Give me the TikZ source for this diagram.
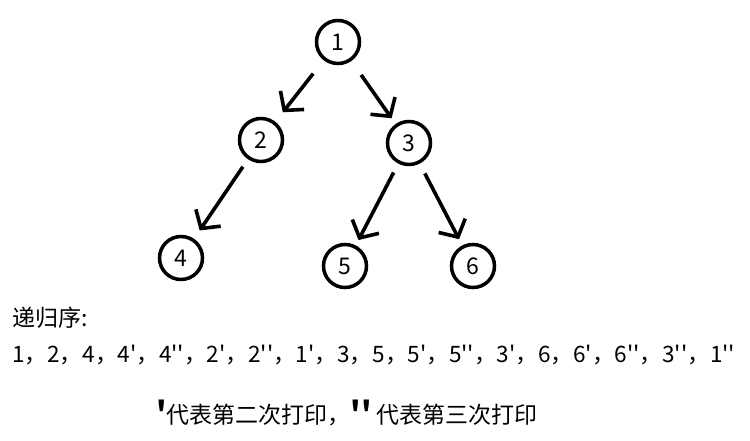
\documentclass[tikz,border=0pt]{standalone}
\usepackage{fontspec}
\newfontfamily\cjk{Noto Sans CJK SC}
\usetikzlibrary{arrows.meta}
\begin{document}
\begin{tikzpicture}[x=1pt,y=-1pt,
  tnode/.style={circle,draw,line width=3.5pt,minimum size=43pt,inner sep=0pt,font=\cjk\fontsize{23}{26}\selectfont},
  edge/.style={line width=3.6pt,-{Straight Barb[length=13pt,width=30pt,line width=3.6pt]}},
  txt/.style={anchor=west,inner sep=0pt,font=\cjk\fontsize{23}{26}\selectfont}]
\useasboundingbox (0,0) rectangle (750,440);
\node[tnode] (n1) at (338,42) {1};
\node[tnode] (n2) at (261,140) {2};
\node[tnode] (n3) at (409,143) {3};
\node[tnode] (n4) at (181,258) {4};
\node[tnode] (n5) at (345,266) {5};
\node[tnode] (n6) at (473,266) {6};
\draw[edge,shorten <=17pt,shorten >=12pt] (n1) -- (n2);
\draw[edge,shorten <=17pt,shorten >=7pt] (n1) -- (n3);
\draw[edge,shorten <=9pt,shorten >=10pt] (n2) -- (n4);
\draw[edge,shorten <=10pt,shorten >=6pt] (n3) -- (n5);
\draw[edge,shorten <=11pt,shorten >=7pt] (n3) -- (n6);
\node[txt] (t1) at (12,318) {递归序:};
\node[txt,font=\cjk\fontsize{22.6}{26}\selectfont] (t2) at (12,355) {1，2，4，4'，4''，2'，2''，1'，3，5，5'，5''，3'，6，6'，6''，3''，1''};
\node[txt] (t3) at (156,413) {{\fontsize{30}{30}\selectfont\bfseries '}代表第二次打印，{\fontsize{30}{30}\selectfont\bfseries ''} 代表第三次打印};
\end{tikzpicture}
\end{document}
